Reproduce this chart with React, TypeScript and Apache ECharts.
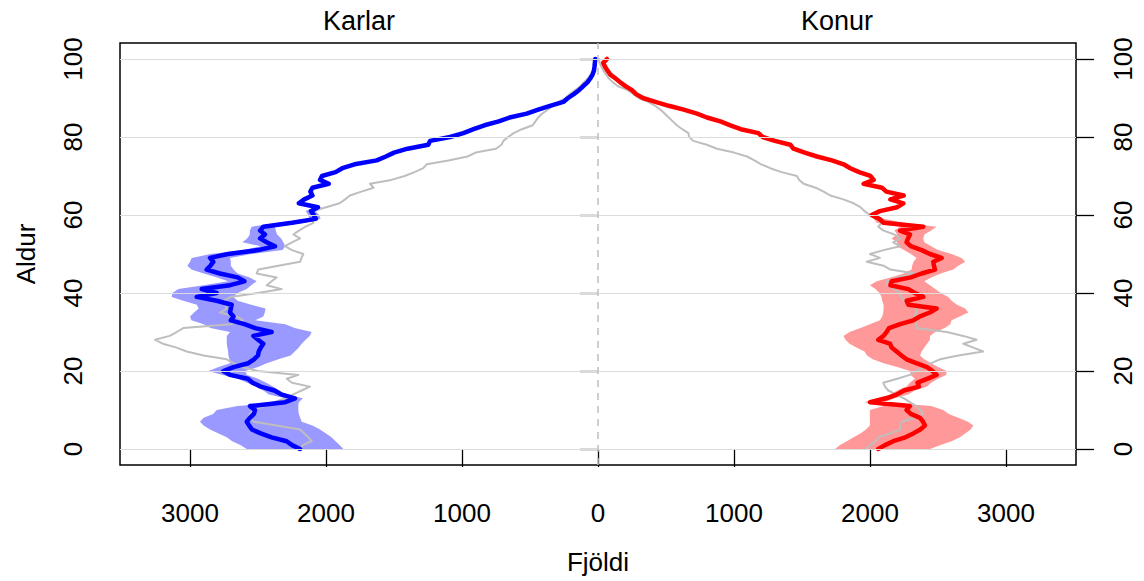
import React, { useEffect, useRef } from "react";
import * as echarts from "echarts";

// Ages 0..100
const ages = [
  0, 1, 2, 3, 4, 5, 6, 7, 8, 9, 10, 11, 12, 13, 14, 15, 16, 17, 18, 19,
  20, 21, 22, 23, 24, 25, 26, 27, 28, 29, 30, 31, 32, 33, 34, 35, 36, 37, 38, 39,
  40, 41, 42, 43, 44, 45, 46, 47, 48, 49, 50, 51, 52, 53, 54, 55, 56, 57, 58, 59,
  60, 61, 62, 63, 64, 65, 66, 67, 68, 69, 70, 71, 72, 73, 74, 75, 76, 77, 78, 79,
  80, 81, 82, 83, 84, 85, 86, 87, 88, 89, 90, 91, 92, 93, 94, 95, 96, 97, 98, 99, 100,
];

const maleMedian = [
  2191, 2250, 2290, 2400, 2480, 2545, 2565, 2583, 2560, 2530,
  2522, 2559, 2300, 2228, 2330, 2380, 2480, 2540, 2575, 2706,
  2755, 2680, 2571, 2530, 2500, 2495, 2480, 2461, 2500, 2534,
  2400, 2520, 2600, 2700, 2680, 2706, 2700, 2694, 2804, 2951,
  2804, 2914, 2706, 2600, 2650, 2780, 2878, 2850, 2829, 2853,
  2720, 2500, 2375, 2436, 2485, 2449, 2485, 2461, 2250, 2075,
  2090, 2110, 2060, 2200, 2160, 2100, 2115, 2100, 1980, 2044,
  2030, 1930, 1880, 1790, 1627, 1560, 1500, 1400, 1248, 1235,
  1088, 990, 915, 835, 730, 650, 524, 440, 353, 255,
  220, 178, 140, 110, 78, 57, 40, 30, 26, 23,
  20,
];

const maleGray = [
  2190, 2170, 2105, 2130, 2160, 2191, 2363, 2530, 2571, 2560,
  2534, 2450, 2380, 2300, 2240, 2180, 2118, 2250, 2289, 2204,
  2500, 2620, 2680, 2730, 2900, 3025, 3098, 3200, 3257, 3150,
  3098, 3050, 2700, 2608, 2657, 2780, 2730, 2740, 2755, 2700,
  2500, 2326, 2436, 2400, 2363, 2510, 2498, 2350, 2191, 2180,
  2167, 2250, 2302, 2250, 2191, 2240, 2200, 2150, 2093, 2105,
  2100, 2090, 2000, 1900, 1860, 1824, 1740, 1650, 1677, 1520,
  1421, 1350, 1285, 1260, 1100, 960, 900, 750, 710, 696,
  660, 620, 560, 480, 460, 440, 410, 370, 330, 290,
  240, 206, 170, 130, 105, 75, 55, 40, 30, 22,
  18,
];

const femaleMedian = [
  2061, 2110, 2171, 2260, 2319, 2370, 2404, 2390, 2368, 2300,
  2269, 2294, 2000, 2120, 2200, 2250, 2360, 2350, 2420, 2490,
  2460, 2420, 2340, 2269, 2230, 2196, 2160, 2147, 2061, 2100,
  2122, 2140, 2221, 2319, 2368, 2440, 2490, 2282, 2270, 2392,
  2330, 2282, 2150, 2159, 2300, 2380, 2478, 2470, 2466, 2527,
  2440, 2380, 2300, 2269, 2280, 2294, 2221, 2392, 2100, 2070,
  2012, 2073, 2200, 2245, 2150, 2248, 2120, 2088, 1953, 2027,
  2003, 1920, 1855, 1806, 1720, 1610, 1520, 1438, 1414, 1300,
  1210, 1180, 1050, 973, 900, 801, 728, 630, 520, 422,
  330, 280, 250, 205, 164, 130, 91, 70, 52, 38,
  66,
];

const femaleGray = [
  1976, 2000, 2040, 2061, 2150, 2221, 2221, 2233, 2330, 2392,
  2370, 2340, 2294, 2250, 2190, 2135, 2110, 2098, 2200, 2294,
  2340, 2400, 2450, 2515, 2650, 2833, 2760, 2686, 2784, 2686,
  2564, 2343, 2340, 2331, 2330, 2340, 2343, 2300, 2250, 2230,
  2221, 2180, 2130, 2122, 2200, 2331, 2150, 2100, 1976, 2073,
  2000, 2100, 2221, 2171, 2221, 2180, 2100, 2061, 2085, 2060,
  2000, 1960, 1930, 1880, 1804, 1708, 1659, 1600, 1512, 1480,
  1463, 1350, 1267, 1200, 1150, 1096, 1000, 875, 800, 700,
  670, 665, 620, 580, 550, 520, 490, 460, 420, 370,
  300, 260, 220, 147, 110, 80, 60, 40, 25, 12,
  8,
];

// Prediction band, ages 0..62
const bandAges = [
  0, 1, 2, 3, 4, 5, 6, 7, 8, 9, 10, 11, 12, 13, 14, 15, 16, 17, 18, 19,
  20, 21, 22, 23, 24, 25, 26, 27, 28, 29, 30, 31, 32, 33, 34, 35, 36, 37, 38, 39,
  40, 41, 42, 43, 44, 45, 46, 47, 48, 49, 50, 51, 52, 53, 54, 55, 56, 57, 58, 59,
  60, 61, 62,
];

const maleLower = [
  1873, 1900, 1930, 1960, 2000, 2044, 2100, 2179, 2190, 2200,
  2204, 2204, 2200, 2170, 2300, 2340, 2390, 2440, 2500, 2580,
  2596, 2500, 2436, 2350, 2260, 2230, 2200, 2179, 2150, 2120,
  2105, 2230, 2300, 2520, 2461, 2450, 2445, 2550, 2650, 2681,
  2650, 2583, 2550, 2510, 2560, 2650, 2680, 2700, 2700, 2706,
  2550, 2320, 2300, 2314, 2330, 2360, 2370, 2375, 2150, 2040,
  2050, 2080, 2030,
];

const maleUpper = [
  2583, 2630, 2690, 2730, 2790, 2853, 2900, 2927, 2900, 2830,
  2804, 2650, 2320, 2300, 2420, 2460, 2520, 2580, 2650, 2760,
  2865, 2790, 2706, 2710, 2718, 2720, 2725, 2730, 2730, 2730,
  2706, 2850, 2900, 2990, 3000, 2970, 2937, 2950, 3050, 3135,
  3130, 3086, 2900, 2720, 2800, 2900, 2990, 3020, 3000, 2988,
  2850, 2600, 2480, 2615, 2580, 2560, 2560, 2547, 2350, 2120,
  2130, 2150, 2090,
];

const femaleLower = [
  1743, 1780, 1830, 1879, 1930, 1970, 1999, 1999, 1999, 1999,
  1999, 2100, 1960, 2050, 2150, 2200, 2270, 2294, 2330, 2300,
  2294, 2200, 2100, 2020, 1978, 1960, 1900, 1850, 1820, 1805,
  1850, 1930, 2000, 2073, 2090, 2098, 2100, 2100, 2090, 2085,
  2070, 2040, 1999, 2050, 2150, 2250, 2306, 2310, 2320, 2343,
  2300, 2250, 2200, 2200, 2159, 2200, 2180, 2221, 2050, 2030,
  1990, 2050, 2170,
];

const femaleUpper = [
  2441, 2520, 2600, 2662, 2700, 2740, 2760, 2720, 2650, 2580,
  2539, 2450, 2110, 2180, 2280, 2330, 2420, 2450, 2500, 2560,
  2564, 2500, 2450, 2400, 2368, 2380, 2400, 2420, 2441, 2441,
  2480, 2550, 2590, 2600, 2660, 2723, 2700, 2640, 2600, 2576,
  2520, 2480, 2441, 2400, 2450, 2520, 2613, 2650, 2700, 2674,
  2600, 2500, 2450, 2400, 2392, 2400, 2450, 2490, 2250, 2110,
  2040, 2100, 2230,
];

const xTicks = [-3000, -2000, -1000, 0, 1000, 2000, 3000];
const yTicks = [0, 20, 40, 60, 80, 100];
const panelTitles = ["Karlar", "Konur"];
const xName = "Fjöldi";
const yName = "Aldur";

const FONT = '"Liberation Sans", Arial, Helvetica, sans-serif';

function bandSeries(lower: number[], upper: number[], sign: number, color: string) {
  return {
    type: "custom",
    silent: true,
    z: 1,
    clip: true,
    data: bandAges.map((a, i) => [sign * lower[i], sign * upper[i], a]),
    encode: { x: [0, 1], y: 2 },
    renderItem: (params: any, api: any) => {
      if (params.dataIndex !== 0) return null;
      const pts: number[][] = [];
      for (let i = 0; i < bandAges.length; i++) {
        pts.push(api.coord([sign * upper[i], bandAges[i]]));
      }
      for (let i = bandAges.length - 1; i >= 0; i--) {
        pts.push(api.coord([sign * lower[i], bandAges[i]]));
      }
      return {
        type: "polygon",
        shape: { points: pts },
        style: { fill: color, stroke: "none" },
      };
    },
  };
}

function lineSeries(vals: number[], sign: number, color: string, width: number, z: number) {
  return {
    type: "line",
    silent: true,
    z,
    symbol: "none",
    showSymbol: false,
    data: ages.map((a, i) => [sign * vals[i], a]),
    lineStyle: { color, width, cap: "round", join: "round" },
  };
}

export default function App() {
  const ref = useRef<HTMLDivElement>(null);
  useEffect(() => {
    if (!ref.current) return;
    const chart = echarts.init(ref.current, null, { renderer: "svg" });
    const gridLeft = 120;
    const gridRight = 68;
    const plotW = 1144 - gridLeft - gridRight;
    const titleStyle = {
      textAlign: "center",
      textVerticalAlign: "middle",
      align: "center",
      verticalAlign: "middle",
      fontSize: 27,
      fontFamily: FONT,
      fill: "#000",
    };
    const option: any = {
      animation: false,
      backgroundColor: "#ffffff",
      textStyle: { fontFamily: FONT },
      grid: {
        left: gridLeft,
        right: gridRight,
        top: 43,
        bottom: 116,
        show: true,
        borderColor: "#000",
        borderWidth: 1.5,
        backgroundColor: "transparent",
      },
      graphic: [
        {
          type: "text",
          x: gridLeft + plotW / 4,
          y: 21,
          style: { ...titleStyle, text: panelTitles[0] },
        },
        {
          type: "text",
          x: gridLeft + (plotW * 3) / 4,
          y: 21,
          style: { ...titleStyle, text: panelTitles[1] },
        },
      ],
      xAxis: {
        type: "value",
        min: -3515,
        max: 3515,
        axisLine: { show: false },
        splitLine: { show: false },
        axisTick: {
          show: true,
          length: 18,
          customValues: xTicks,
          lineStyle: { color: "#000", width: 1.3 },
        },
        axisLabel: {
          customValues: xTicks,
          formatter: (v: number) => String(Math.abs(v)),
          fontSize: 26,
          color: "#000",
          margin: 35,
          fontFamily: FONT,
        },
        name: xName,
        nameLocation: "middle",
        nameGap: 84,
        nameTextStyle: { fontSize: 26, color: "#000", fontFamily: FONT },
      },
      yAxis: [
        {
          type: "value",
          position: "left",
          min: -4.1,
          max: 104.1,
          axisLine: { show: false },
          splitLine: { show: false },
          axisTick: {
            show: true,
            length: 18,
            customValues: yTicks,
            lineStyle: { color: "#000", width: 1.3 },
          },
          axisLabel: {
            customValues: yTicks,
            rotate: 90,
            fontSize: 26,
            color: "#000",
            margin: 34,
            fontFamily: FONT,
          },
          name: yName,
          nameLocation: "middle",
          nameGap: 81,
          nameRotate: 90,
          nameTextStyle: { fontSize: 26, color: "#000", fontFamily: FONT },
        },
        {
          type: "value",
          position: "right",
          min: -4.1,
          max: 104.1,
          axisLine: { show: false },
          splitLine: { show: false },
          axisTick: {
            show: true,
            length: 18,
            customValues: yTicks,
            lineStyle: { color: "#000", width: 1.3 },
          },
          axisLabel: {
            customValues: yTicks,
            rotate: 90,
            fontSize: 26,
            color: "#000",
            margin: 34,
            fontFamily: FONT,
          },
        },
      ],
      series: [
        {
          type: "line",
          silent: true,
          z: 0,
          data: [],
          markLine: {
            silent: true,
            symbol: "none",
            animation: false,
            label: { show: false },
            lineStyle: { color: "#dcdcdc", width: 1, type: "solid" },
            data: yTicks.map((t) => ({ yAxis: t })),
          },
        },
        bandSeries(maleLower, maleUpper, -1, "rgba(0,0,255,0.4)"),
        bandSeries(femaleLower, femaleUpper, 1, "rgba(255,0,0,0.4)"),
        {
          type: "line",
          silent: true,
          z: 2,
          data: [],
          markLine: {
            silent: true,
            symbol: "none",
            animation: false,
            label: { show: false },
            lineStyle: { color: "#bebebe", width: 1.5, type: [7, 6] },
            data: [{ xAxis: 0 }],
          },
        },
        lineSeries(maleGray, -1, "#bebebe", 2, 3),
        lineSeries(femaleGray, 1, "#bebebe", 2, 3),
        lineSeries(maleMedian, -1, "#0000ff", 4.5, 4),
        lineSeries(femaleMedian, 1, "#ff0000", 4.5, 4),
      ],
    };
    chart.setOption(option);
    return () => chart.dispose();
  }, []);
  return (
    <div
      ref={ref}
      style={{ position: "fixed", left: 0, top: 0, width: 1144, height: 581, background: "#fff" }}
    />
  );
}
